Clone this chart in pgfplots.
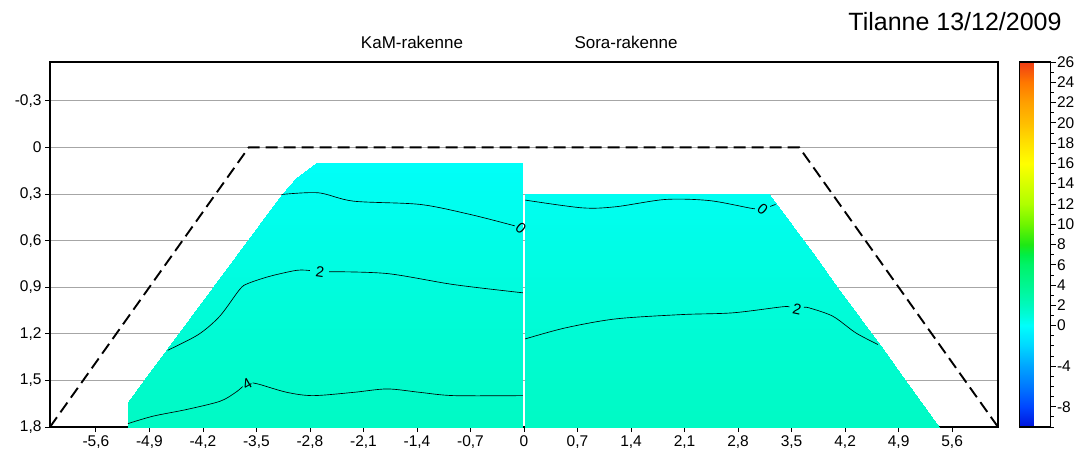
\documentclass[border=0pt]{standalone}
\usepackage{fontspec}
\setmainfont{Liberation Sans}
\usepackage{pgfplots}
\pgfplotsset{compat=1.18}
\usepackage{pgfplotstable}

\pgfplotstableread{
x y v
-2.72 0.1 -0.8
-2.72 0.1 -0.8
-2.72 0.1 -0.8
-2.72 0.1 -0.8
-2.72 0.1 -0.8
-2.10 0.1 -1.1
-1.40 0.1 -1.2
-0.70 0.1 -1.3
-0.015 0.1 -1.3
-2.98 0.2 -0.4
-2.98 0.2 -0.4
-2.98 0.2 -0.4
-2.98 0.2 -0.4
-2.80 0.2 -0.4
-2.10 0.2 -0.67
-1.40 0.2 -0.74
-0.70 0.2 -1.05
-0.015 0.2 -1.3
-3.17 0.3 0
-3.17 0.3 0
-3.17 0.3 0
-3.17 0.3 0
-2.80 0.3 0
-2.10 0.3 -0.22
-1.40 0.3 -0.29
-0.70 0.3 -0.59
-0.015 0.3 -1.05
-3.47 0.5 0.8
-3.47 0.5 0.8
-3.47 0.5 0.8
-3.40 0.5 0.85
-2.80 0.5 0.82
-2.10 0.5 0.67
-1.40 0.5 0.61
-0.70 0.5 0.32
-0.015 0.5 -0.1
-3.77 0.7 1.1
-3.77 0.7 1.1
-3.77 0.7 1.1
-3.40 0.7 1.53
-2.80 0.7 1.63
-2.10 0.7 1.56
-1.40 0.7 1.51
-0.70 0.7 1.23
-0.015 0.7 0.86
-4.07 0.9 1.0
-4.07 0.9 1.0
-4.00 0.9 1.12
-3.40 0.9 2.17
-2.80 0.9 2.27
-2.10 0.9 2.26
-1.40 0.9 2.24
-0.70 0.9 2.08
-0.015 0.9 1.81
-4.37 1.1 1.43
-4.37 1.1 1.43
-4.00 1.1 2.0
-3.40 1.1 2.74
-2.80 1.1 2.77
-2.10 1.1 2.78
-1.40 1.1 2.76
-0.70 1.1 2.6
-0.015 1.1 2.48
-4.67 1.3 2.0
-4.60 1.3 2.05
-4.00 1.3 2.74
-3.40 1.3 3.31
-2.80 1.3 3.26
-2.10 1.3 3.3
-1.40 1.3 3.29
-0.70 1.3 3.11
-0.015 1.3 3.09
-4.97 1.5 2.8
-4.60 1.5 3.02
-4.00 1.5 3.48
-3.40 1.5 3.89
-2.80 1.5 3.75
-2.10 1.5 3.82
-1.40 1.5 3.8
-0.70 1.5 3.63
-0.015 1.5 3.7
-5.18 1.64 3.4
-4.60 1.64 3.7
-4.00 1.64 4.0
-3.40 1.64 4.25
-2.80 1.64 4.1
-2.10 1.64 4.18
-1.40 1.64 4.16
-0.70 1.64 4.1
-0.015 1.64 4.1
-5.18 1.8 4.05
-4.60 1.8 4.25
-4.00 1.8 4.4
-3.40 1.8 4.65
-2.80 1.8 4.5
-2.10 1.8 4.58
-1.40 1.8 4.56
-0.70 1.8 4.5
-0.015 1.8 4.5
}\leftfield

\pgfplotstableread{
x y v
0.015 0.3 -0.09
0.70 0.3 -0.22
1.40 0.3 -0.19
2.10 0.3 -0.09
2.80 0.3 -0.14
3.21 0.3 -0.2
3.21 0.3 -0.2
3.21 0.3 -0.2
3.21 0.3 -0.2
0.015 0.5 0.36
0.70 0.5 0.29
1.40 0.5 0.36
2.10 0.5 0.45
2.80 0.5 0.42
3.50 0.5 0.42
3.51 0.5 0.42
3.51 0.5 0.42
3.51 0.5 0.42
0.015 0.7 0.81
0.70 0.7 0.8
1.40 0.7 0.9
2.10 0.7 0.99
2.80 0.7 0.99
3.50 0.7 1.01
3.80 0.7 1.05
3.80 0.7 1.05
3.80 0.7 1.05
0.015 0.9 1.25
0.70 0.9 1.31
1.40 0.9 1.45
2.10 0.9 1.52
2.80 0.9 1.55
3.50 0.9 1.61
4.10 0.9 1.45
4.10 0.9 1.45
4.10 0.9 1.45
0.015 1.1 1.7
0.70 1.1 1.82
1.40 1.1 2.0
2.10 1.1 2.06
2.80 1.1 2.1
3.50 1.1 2.17
4.20 1.1 1.8
4.39 1.1 1.67
4.39 1.1 1.67
0.015 1.3 2.17
0.70 1.3 2.27
1.40 1.3 2.5
2.10 1.3 2.55
2.80 1.3 2.6
3.50 1.3 2.6
4.20 1.3 2.4
4.69 1.3 2.1
4.69 1.3 2.1
0.015 1.5 2.67
0.70 1.5 2.75
1.40 1.5 3.0
2.10 1.5 3.05
2.80 1.5 3.1
3.50 1.5 3.05
4.20 1.5 2.9
4.90 1.5 2.6
4.99 1.5 2.6
0.015 1.8 3.4
0.70 1.8 3.5
1.40 1.8 3.65
2.10 1.8 3.7
2.80 1.8 3.65
3.50 1.8 3.6
4.20 1.8 3.5
4.90 1.8 3.35
5.43 1.8 3.3
}\rightfield

\pgfplotsset{
  colormap={ref}{
    rgb255(0pt)=(0,20,220)
    rgb255(2pt)=(0,70,255)
    rgb255(4pt)=(0,120,255)
    rgb255(6pt)=(0,165,255)
    rgb255(8pt)=(0,215,255)
    rgb255(10pt)=(0,255,252)
    rgb255(11pt)=(0,252,218)
    rgb255(12pt)=(0,249,190)
    rgb255(13pt)=(0,248,166)
    rgb255(14pt)=(0,246,145)
    rgb255(16pt)=(0,243,105)
    rgb255(17pt)=(0,238,70)
    rgb255(18pt)=(30,232,20)
    rgb255(20pt)=(110,245,0)
    rgb255(22pt)=(175,255,0)
    rgb255(24pt)=(215,255,0)
    rgb255(26pt)=(255,255,0)
    rgb255(28pt)=(255,225,0)
    rgb255(30pt)=(255,190,0)
    rgb255(32pt)=(255,160,0)
    rgb255(34pt)=(255,120,0)
    rgb255(36pt)=(240,60,20)
  }
}

\begin{document}
\begin{tikzpicture}
\useasboundingbox (0,0) rectangle (1076pt,454pt);
\node[font=\fontsize{17}{17}\selectfont] at (412pt,412pt) {KaM-rakenne};
\node[font=\fontsize{17}{17}\selectfont] at (626pt,412pt) {Sora-rakenne};
\node[font=\fontsize{25}{25}\selectfont] at (955pt,432pt) {Tilanne 13/12/2009};
\begin{axis}[
  at={(50pt,27pt)}, anchor=south west,
  scale only axis, width=948pt, height=365pt,
  xmin=-6.2, xmax=6.2, ymin=-0.55, ymax=1.8, y dir=reverse,
  xtick={-5.6,-4.9,-4.2,-3.5,-2.8,-2.1,-1.4,-0.7,0,0.7,1.4,2.1,2.8,3.5,4.2,4.9,5.6},
  ytick={-0.3,0,0.3,0.6,0.9,1.2,1.5,1.8},
  xtick pos=bottom, ytick pos=left, tick align=outside,
  major tick length=5pt,
  tick style={black, line width=0.8pt},
  axis line style={black, line width=1.2pt},
  ymajorgrids, major grid style={black!35, line width=0.9pt},
  tick label style={font=\fontsize{15.5}{15.5}\selectfont},
  /pgf/number format/assume math mode=true,
  /pgf/number format/use comma,
  /pgf/number format/fixed,
  /pgf/number format/precision=1,
  colormap name=ref,
  point meta min=-10, point meta max=26,
  colorbar,
  colorbar style={
    at={(parent axis.north east)}, anchor=north west, xshift=13pt,
    scale only axis, width=31pt, height=365pt,
    ytick={-8,-4,0,2,4,6,8,10,12,14,16,18,20,22,24,26},
    minor ytick={-10,-9,...,26},
    ytick pos=right, yticklabel pos=right, tick align=outside,
    major tick length=5pt, minor tick length=3pt,
    tick style={black, line width=0.8pt},
    axis line style={black, line width=1.2pt},
    yticklabel style={font=\fontsize{15.5}{15.5}\selectfont, xshift=-2pt},
    /pgf/number format/assume math mode=true,
  },
]
\addplot[surf, shader=interp, mesh/cols=9] table[x=x, y=y, meta=v] {\leftfield};
\addplot[surf, shader=interp, mesh/cols=9] table[x=x, y=y, meta=v] {\rightfield};

% contour lines
\addplot[black, line width=0.65pt, smooth, tension=0.5] coordinates {
 (-3.17,0.303) (-2.69,0.292) (-2.23,0.346) (-1.36,0.367) (-0.70,0.432) (-0.12,0.505)};
\addplot[black, line width=0.65pt, smooth, tension=0.5] coordinates {
 (-4.66,1.306) (-4.26,1.205) (-3.98,1.087) (-3.72,0.915) (-3.61,0.876) (-3.32,0.829) (-2.97,0.791) (-2.80,0.793)};
\addplot[black, line width=0.65pt, smooth, tension=0.5] coordinates {
 (-2.55,0.800) (-1.79,0.812) (-0.92,0.883) (-0.015,0.936)};
\addplot[black, line width=0.65pt, smooth, tension=0.5] coordinates {
 (-5.18,1.778) (-4.85,1.73) (-4.42,1.688) (-3.98,1.635) (-3.78,1.58) (-3.68,1.54)};
\addplot[black, line width=0.65pt, smooth, tension=0.5] coordinates {
 (-3.55,1.516) (-3.45,1.527) (-3.10,1.577) (-2.76,1.598) (-2.23,1.577) (-1.79,1.555) (-1.36,1.577) (-0.92,1.598) (-0.015,1.598)};
\addplot[black, line width=0.65pt, smooth, tension=0.5] coordinates {
 (0.015,0.339) (0.76,0.389) (1.20,0.382) (1.85,0.335) (2.42,0.342) (2.94,0.389) (3.02,0.395)};
\addplot[black, line width=0.65pt, smooth, tension=0.5] coordinates {
 (3.22,0.380) (3.29,0.367)};
\addplot[black, line width=0.65pt, smooth, tension=0.5] coordinates {
 (0.015,1.233) (0.54,1.162) (1.20,1.104) (2.07,1.076) (2.73,1.065) (3.38,1.026) (3.47,1.028)};
\addplot[black, line width=0.65pt, smooth, tension=0.5] coordinates {
 (3.66,1.030) (3.73,1.033) (4.04,1.087) (4.34,1.194) (4.63,1.269)};

% embankment outline
\addplot[black, line width=1.9pt, dash pattern=on 12pt off 6pt] coordinates {
 (-6.2,1.8) (-3.6,0) (3.6,0) (6.2,1.8)};

% contour labels
\node[font=\fontsize{15}{15}\selectfont, rotate=-40, inner sep=0pt] at (axis cs:-0.04,0.52) {0};
\node[font=\fontsize{15}{15}\selectfont, rotate=-40, inner sep=0pt] at (axis cs:3.12,0.40) {0};
\node[font=\fontsize{15}{15}\selectfont, rotate=-8, inner sep=0pt] at (axis cs:-2.67,0.80) {2};
\node[font=\fontsize{15}{15}\selectfont, rotate=-12, inner sep=0pt] at (axis cs:3.57,1.04) {2};
\node[font=\fontsize{15}{15}\selectfont, rotate=30, inner sep=0pt] at (axis cs:-3.62,1.52) {4};
\end{axis}
\end{tikzpicture}
\end{document}
